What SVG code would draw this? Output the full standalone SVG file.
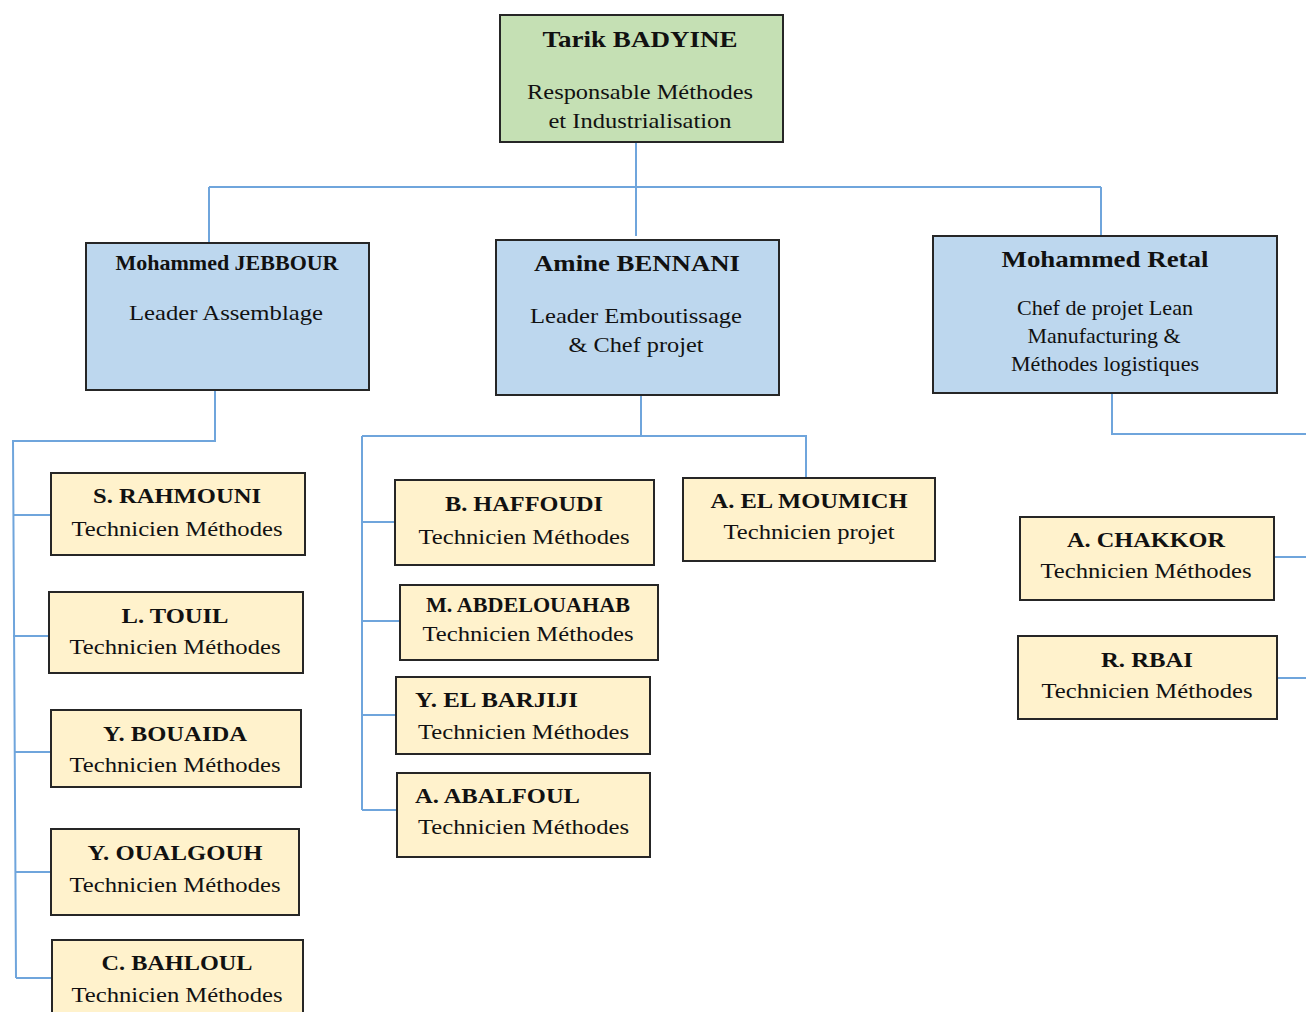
<svg xmlns="http://www.w3.org/2000/svg" width="1306" height="1012" viewBox="0 0 1306 1012">
  <style>
    .box { stroke: #262626; stroke-width: 2; }
    .head { fill: #c5e0b4; }
    .lead { fill: #bdd7ee; }
    .tech { fill: #fff2cc; }
    .link { fill: none; stroke: #6fa5dc; stroke-width: 2; }
    text { font-family: "Liberation Serif", "Times New Roman", serif; fill: #111; text-anchor: middle; }
    .name { font-weight: bold; font-size: 22px; }
    .big { font-weight: bold; font-size: 24px; }
    .role { font-size: 22px; }
    .left { text-anchor: start; }
  </style>
  <rect width="1306" height="1012" fill="#ffffff"/>

  <!-- connectors -->
  <g id="connectors">
    <path class="link" d="M636 142 V236 M209 187 H1101 M209 187 V243 M1101 187 V236"/>
    <path class="link" d="M215 390 V441 H13 L16 978 M13 515 H51 M13 636 H49 M14 752 H51 M15 872 H51 M16 978 H53"/>
    <path class="link" d="M641 395 V436 M362 436 H806 V480 M362 436 V810 M362 522 H395 M362 621 H400 M362 715 H397 M362 810 H397"/>
    <path class="link" d="M1112 393 V434 H1306 M1274 557 H1306 M1277 678 H1306"/>
  </g>

  <!-- head -->
  <g id="badyine">
    <rect class="box head" x="500" y="15" width="283" height="127"/>
    <text class="big" x="640" y="47" textLength="195" lengthAdjust="spacingAndGlyphs">Tarik BADYINE</text>
    <text class="role" x="640" y="99" textLength="226" lengthAdjust="spacingAndGlyphs">Responsable Méthodes</text>
    <text class="role" x="640" y="128" textLength="183" lengthAdjust="spacingAndGlyphs">et Industrialisation</text>
  </g>

  <!-- leaders -->
  <g id="jebbour">
    <rect class="box lead" x="86" y="243" width="283" height="147"/>
    <text class="name" x="227" y="270" textLength="223" lengthAdjust="spacingAndGlyphs">Mohammed JEBBOUR</text>
    <text class="role" x="226" y="320" textLength="194" lengthAdjust="spacingAndGlyphs">Leader Assemblage</text>
  </g>
  <g id="bennani">
    <rect class="box lead" x="496" y="240" width="283" height="155"/>
    <text class="big" x="637" y="271" textLength="206" lengthAdjust="spacingAndGlyphs">Amine BENNANI</text>
    <text class="role" x="636" y="323" textLength="212" lengthAdjust="spacingAndGlyphs">Leader Emboutissage</text>
    <text class="role" x="636" y="352" textLength="135" lengthAdjust="spacingAndGlyphs">&amp; Chef projet</text>
  </g>
  <g id="retal">
    <rect class="box lead" x="933" y="236" width="344" height="157"/>
    <text class="big" x="1105" y="267" textLength="207" lengthAdjust="spacingAndGlyphs">Mohammed Retal</text>
    <text class="role" x="1105" y="315" textLength="176" lengthAdjust="spacingAndGlyphs">Chef de projet Lean</text>
    <text class="role" x="1104" y="343" textLength="153" lengthAdjust="spacingAndGlyphs">Manufacturing &amp;</text>
    <text class="role" x="1105" y="371" textLength="188" lengthAdjust="spacingAndGlyphs">Méthodes logistiques</text>
  </g>

  <!-- assemblage team -->
  <g id="rahmouni">
    <rect class="box tech" x="51" y="473" width="254" height="82"/>
    <text class="name" x="177" y="503" textLength="168" lengthAdjust="spacingAndGlyphs">S. RAHMOUNI</text>
    <text class="role" x="177" y="536" textLength="211" lengthAdjust="spacingAndGlyphs">Technicien Méthodes</text>
  </g>
  <g id="touil">
    <rect class="box tech" x="49" y="592" width="254" height="81"/>
    <text class="name" x="175" y="623" textLength="107" lengthAdjust="spacingAndGlyphs">L. TOUIL</text>
    <text class="role" x="175" y="654" textLength="211" lengthAdjust="spacingAndGlyphs">Technicien Méthodes</text>
  </g>
  <g id="bouaida">
    <rect class="box tech" x="51" y="710" width="250" height="77"/>
    <text class="name" x="175" y="741" textLength="144" lengthAdjust="spacingAndGlyphs">Y. BOUAIDA</text>
    <text class="role" x="175" y="772" textLength="211" lengthAdjust="spacingAndGlyphs">Technicien Méthodes</text>
  </g>
  <g id="oualgouh">
    <rect class="box tech" x="51" y="829" width="248" height="86"/>
    <text class="name" x="175" y="860" textLength="175" lengthAdjust="spacingAndGlyphs">Y. OUALGOUH</text>
    <text class="role" x="175" y="892" textLength="211" lengthAdjust="spacingAndGlyphs">Technicien Méthodes</text>
  </g>
  <g id="bahloul">
    <rect class="box tech" x="52" y="940" width="251" height="90"/>
    <text class="name" x="177" y="970" textLength="151" lengthAdjust="spacingAndGlyphs">C. BAHLOUL</text>
    <text class="role" x="177" y="1002" textLength="211" lengthAdjust="spacingAndGlyphs">Technicien Méthodes</text>
  </g>

  <!-- emboutissage team -->
  <g id="haffoudi">
    <rect class="box tech" x="395" y="480" width="259" height="85"/>
    <text class="name" x="524" y="511" textLength="158" lengthAdjust="spacingAndGlyphs">B. HAFFOUDI</text>
    <text class="role" x="524" y="544" textLength="211" lengthAdjust="spacingAndGlyphs">Technicien Méthodes</text>
  </g>
  <g id="abdelouahab">
    <rect class="box tech" x="400" y="585" width="258" height="75"/>
    <text class="name" x="528" y="612" textLength="204" lengthAdjust="spacingAndGlyphs">M. ABDELOUAHAB</text>
    <text class="role" x="528" y="641" textLength="211" lengthAdjust="spacingAndGlyphs">Technicien Méthodes</text>
  </g>
  <g id="barjiji">
    <rect class="box tech" x="396" y="677" width="254" height="77"/>
    <text class="name left" x="415" y="707" textLength="163" lengthAdjust="spacingAndGlyphs">Y. EL BARJIJI</text>
    <text class="role left" x="418" y="739" textLength="211" lengthAdjust="spacingAndGlyphs">Technicien Méthodes</text>
  </g>
  <g id="abalfoul">
    <rect class="box tech" x="397" y="773" width="253" height="84"/>
    <text class="name left" x="415" y="803" textLength="165" lengthAdjust="spacingAndGlyphs">A. ABALFOUL</text>
    <text class="role left" x="418" y="834" textLength="211" lengthAdjust="spacingAndGlyphs">Technicien Méthodes</text>
  </g>
  <g id="elmoumich">
    <rect class="box tech" x="683" y="478" width="252" height="83"/>
    <text class="name" x="809" y="508" textLength="197" lengthAdjust="spacingAndGlyphs">A. EL MOUMICH</text>
    <text class="role" x="809" y="539" textLength="171" lengthAdjust="spacingAndGlyphs">Technicien projet</text>
  </g>

  <!-- lean / logistics team -->
  <g id="chakkor">
    <rect class="box tech" x="1020" y="517" width="254" height="83"/>
    <text class="name" x="1146" y="547" textLength="158" lengthAdjust="spacingAndGlyphs">A. CHAKKOR</text>
    <text class="role" x="1146" y="578" textLength="211" lengthAdjust="spacingAndGlyphs">Technicien Méthodes</text>
  </g>
  <g id="rbai">
    <rect class="box tech" x="1018" y="636" width="259" height="83"/>
    <text class="name" x="1147" y="667" textLength="92" lengthAdjust="spacingAndGlyphs">R. RBAI</text>
    <text class="role" x="1147" y="698" textLength="211" lengthAdjust="spacingAndGlyphs">Technicien Méthodes</text>
  </g>
</svg>
